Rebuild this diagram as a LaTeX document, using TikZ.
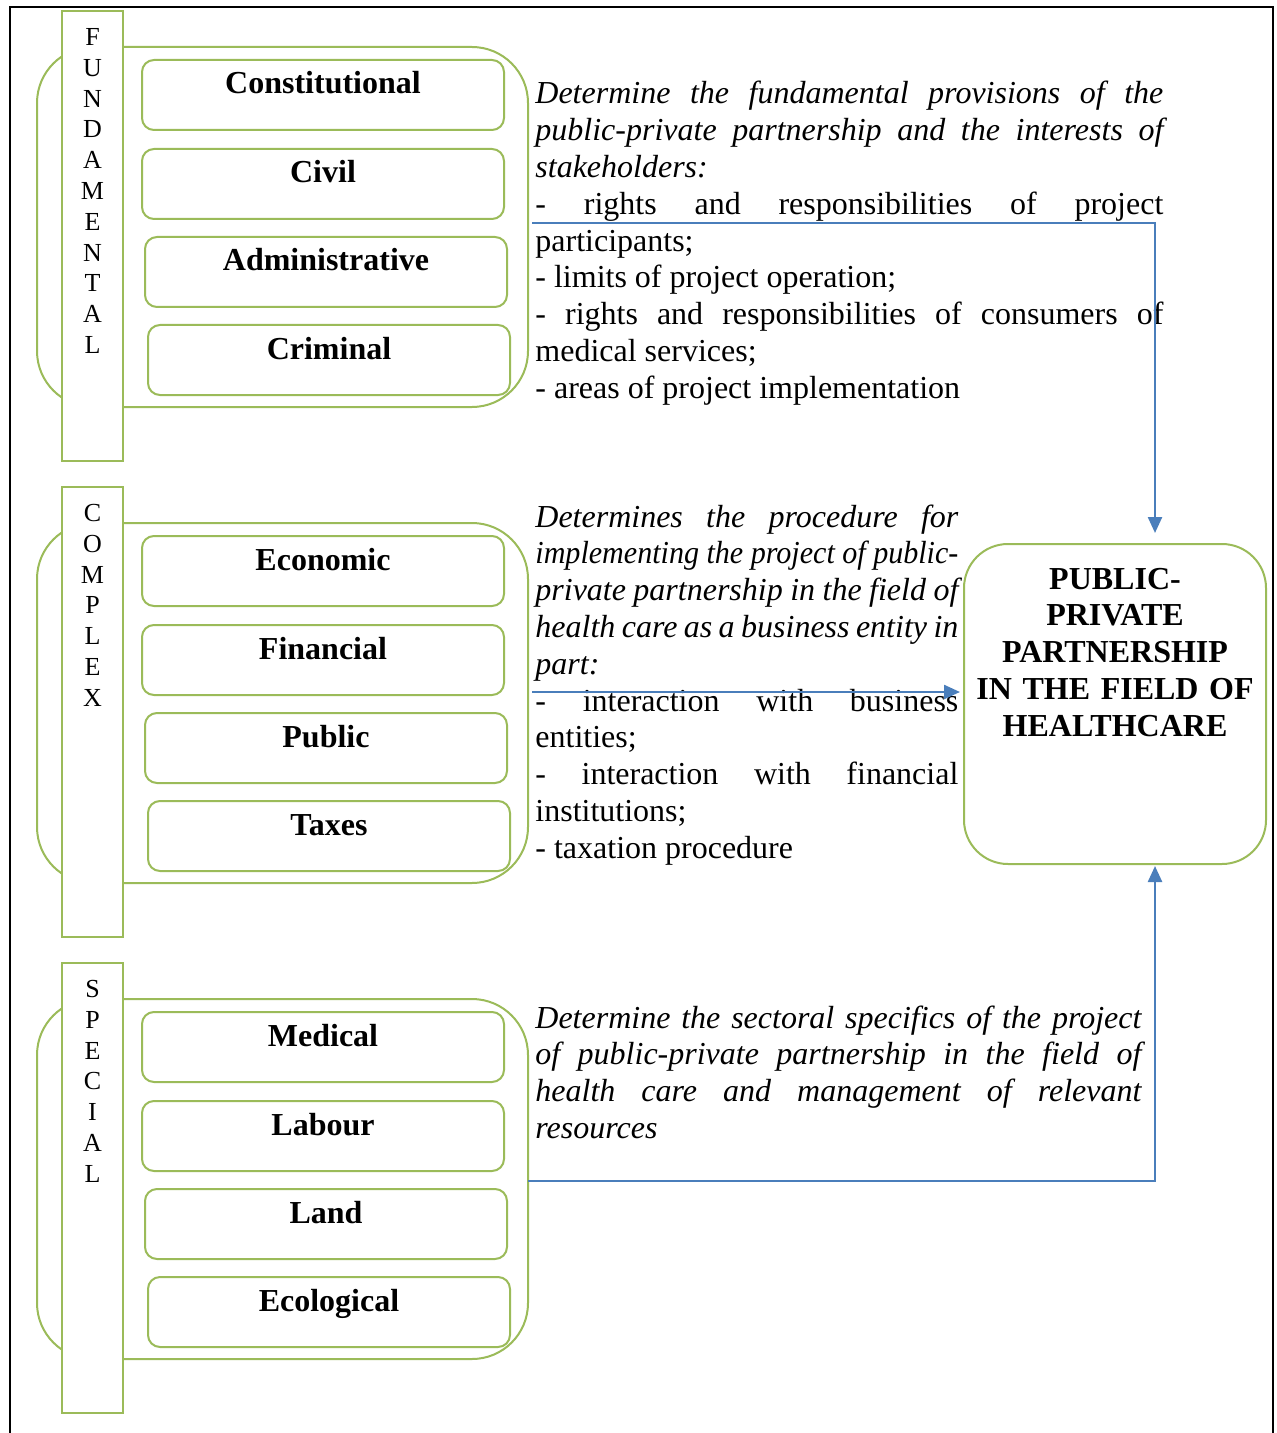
\documentclass[tikz,border=0pt]{standalone}
\usepackage{fontspec}
\setmainfont{Liberation Serif}
\usepackage{graphicx}
\usepackage{tikz}
\usetikzlibrary{arrows.meta,calc,positioning}
\definecolor{boxgreen}{RGB}{155,187,89}
\definecolor{flowblue}{RGB}{74,126,187}

\tikzset{
  groupbox/.style={draw=boxgreen, line width=1pt, rounded corners=28pt, minimum width=245.5pt, minimum height=180pt, inner sep=0pt, outer sep=0pt},
  sidebar/.style={draw=boxgreen, fill=white, line width=1pt, minimum width=30.5pt, minimum height=225pt, inner sep=0pt, outer sep=0pt},
  sideletters/.style={anchor=base, text width=30.5pt, align=center, inner sep=0pt, font=\fontsize{13}{15.4}\selectfont},
  lawbox/.style={anchor=north west, draw=boxgreen, line width=1pt, rounded corners=6pt, minimum width=181pt, text height=17pt, text depth=18pt, inner ysep=0pt, font=\fontsize{16}{18.4}\selectfont\bfseries},
  desc/.style={anchor=base west, inner sep=0pt, align=justify, font=\fontsize{16}{18.4}\selectfont,
    execute at begin node={\tolerance=10000\hbadness=10000\hyphenpenalty=10000\exhyphenpenalty=10000}},
  pppbox/.style={draw=boxgreen, line width=1pt, rounded corners=22pt, minimum width=151pt, minimum height=160pt, inner sep=0pt, outer sep=0pt},
  ppptext/.style={anchor=base, text width=151pt, align=center, inner sep=0pt, font=\fontsize{16}{18.4}\selectfont\bfseries},
  flowline/.style={draw=flowblue, line width=1.2pt, -{Triangle[length=8pt,width=7pt]}}
}

\begin{document}
\begin{tikzpicture}[x=0.5pt,y=-0.5pt]
        \useasboundingbox (0,0) rectangle (1276,1433);
        % Outer frame
        \draw[line width=1pt] (10,1445) -- (10,7) -- (1273,7) -- (1273,1445);
        % Fundamental branches
        \node[groupbox] (fundall) at (282.5,227) {};
        \node[sidebar] (fundbar) at (92.5,236) {};
        \node[sideletters] (fundname) at (92.5,45.5) {F\\U\\N\\D\\A\\M\\E\\N\\T\\A\\L};
        \node[lawbox] (constit) at (141,59) {Constitutional};
        \node[lawbox] (civil) at (141,148) {Civil};
        \node[lawbox] (admin) at (144,236) {Administrative};
        \node[lawbox] (crim) at (147,324) {Criminal};
        % Complex branches
        \node[groupbox] (cmplxall) at (282.5,703) {};
        \node[sidebar] (cmplxbar) at (92.5,712) {};
        \node[sideletters] (cmplxname) at (92.5,521.5) {C\\O\\M\\P\\L\\E\\X};
        \node[lawbox] (econ) at (141,535) {Economic};
        \node[lawbox] (fin) at (141,624) {Financial};
        \node[lawbox] (publ) at (144,712) {Public};
        \node[lawbox] (tax) at (147,800) {Taxes};
        % Special branches
        \node[groupbox] (specall) at (282.5,1179) {};
        \node[sidebar] (specbar) at (92.5,1188) {};
        \node[sideletters] (specname) at (92.5,997.5) {S\\P\\E\\C\\I\\A\\L};
        \node[lawbox] (med) at (141,1011) {Medical};
        \node[lawbox] (labour) at (141,1100) {Labour};
        \node[lawbox] (land) at (144,1188) {Land};
        \node[lawbox] (ecol) at (147,1276) {Ecological};
        % Descriptions
        \node[desc, text width=314pt] (fundtext) at (535,104) {\textit{Determine the fundamental provisions of the\linebreak public-private partnership and the interests of\linebreak stakeholders:}\\- rights and responsibilities of project\linebreak participants;\\- limits of project operation;\\- rights and responsibilities of consumers of\linebreak medical services;\\- areas of project implementation};
        \node[desc, text width=211.5pt] (cmplxtext) at (535,527) {\textit{Determines the procedure for\linebreak \resizebox{\linewidth}{\height}{implementing the project of public-}\linebreak private partnership in the field of\linebreak health care as a business entity in\linebreak part:}\\- interaction with business\linebreak entities;\\- interaction with financial\linebreak institutions;\\- taxation procedure};
        \node[desc, text width=303pt] (spectext) at (535,1028) {\textit{Determine the sectoral specifics of the project\linebreak of public-private partnership in the field of\linebreak health care and management of relevant\linebreak resources}};
        % Target box
        \node[pppbox] (ppp) at (1115,704) {};
        \node[ppptext] (ppptitle) at (1115,589) {PUBLIC-\\PRIVATE\\PARTNERSHIP\\IN THE FIELD OF\\HEALTHCARE};
        % Arrows to the target
        \coordinate (fundstart) at (532,223);
        \coordinate (fundturn) at (1155,223);
        \draw[flowline, shorten >=5.5pt] (fundstart) -- (fundturn) -- (fundturn |- ppp.north);
        \coordinate (cmplxstart) at (532,692);
        \draw[flowline, shorten >=2pt] (cmplxstart) -- (cmplxstart -| ppp.west);
        \coordinate (specstart) at (528,1181);
        \coordinate (specturn) at (1155,1181);
        \draw[flowline, shorten >=1pt] (specstart) -- (specturn) -- (specturn |- ppp.south);
\end{tikzpicture}
\end{document}
